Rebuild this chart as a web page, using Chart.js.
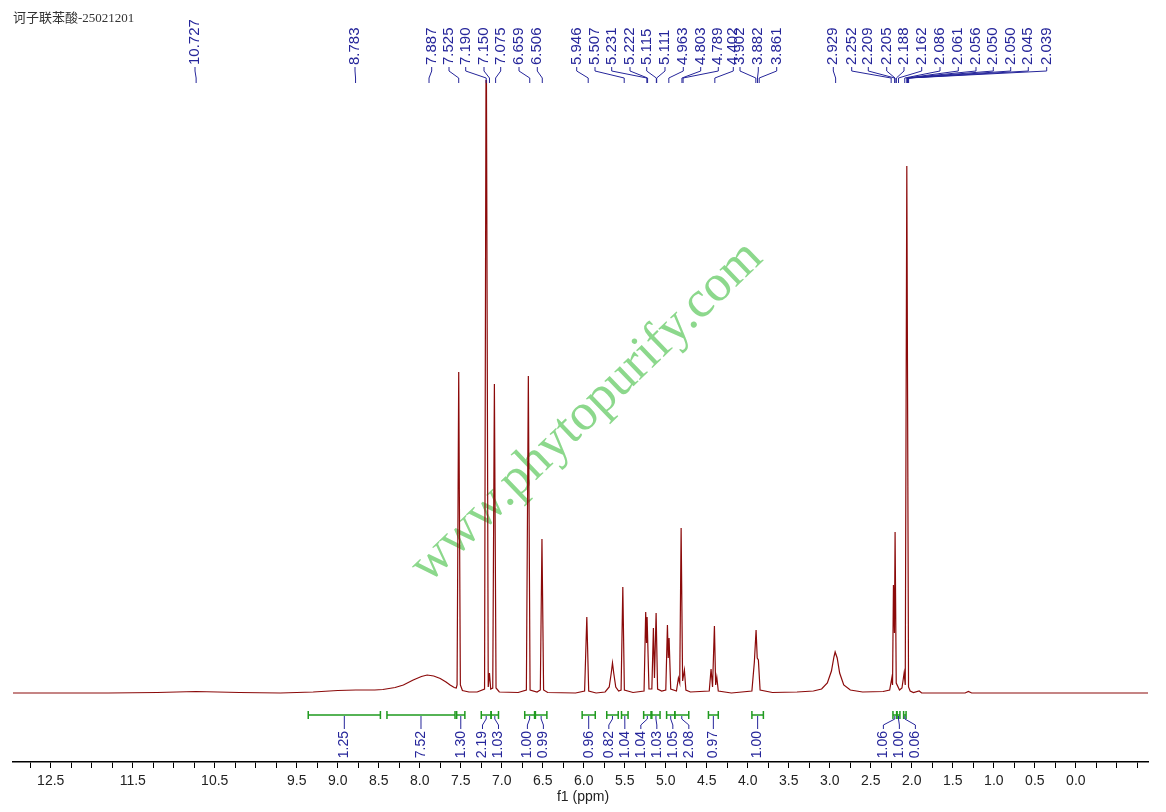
<!DOCTYPE html>
<html>
<head>
<meta charset="utf-8">
<script src="https://cdn.jsdelivr.net/npm/chart.js@4.4.1/dist/chart.umd.min.js"></script>
<style>
  html, body { margin: 0; padding: 0; background: #fff; }
  #nmr { display: block; }
</style>
</head>
<body>
<canvas id="nmr" width="1166" height="812"></canvas>
<script>
// Spectrum trace: chemical shift (ppm) and height above baseline
const shifts = [
  12.96, 11.8, 11.2, 10.73, 10.2, 9.7, 9.3, 9.0, 8.78, 8.55, 8.45, 8.3, 8.2, 8.08, 7.98, 7.91, 7.83, 7.75, 7.68, 7.63, 7.58, 7.555,
  7.545, 7.525, 7.505, 7.48, 7.40, 7.30,
  7.21, 7.19, 7.165, 7.15, 7.135,
  7.11, 7.09, 7.07, 7.03, 6.80,
  6.70, 6.676, 6.655, 6.57,
  6.53, 6.51, 6.49, 6.44, 6.10,
  5.99, 5.963, 5.94, 5.85,
  5.74, 5.69, 5.665, 5.65, 5.635, 5.61, 5.575,
  5.545, 5.524, 5.505, 5.40,
  5.265, 5.245, 5.235, 5.228, 5.205,
  5.17, 5.151, 5.138, 5.118, 5.10, 5.05,
  5.00, 4.98, 4.97, 4.96, 4.94,
  4.87, 4.846, 4.83, 4.813, 4.795, 4.773, 4.755, 4.70,
  4.47, 4.448, 4.43, 4.407, 4.392, 4.378, 4.36, 4.20,
  3.95, 3.92, 3.899, 3.885, 3.871, 3.85, 3.70, 3.40,
  3.20, 3.10, 3.03, 2.98, 2.95, 2.935, 2.91, 2.88, 2.83, 2.75, 2.60, 2.35,
  2.27, 2.244, 2.235, 2.224, 2.212, 2.204, 2.19, 2.15, 2.12, 2.094, 2.08, 2.061, 2.04, 2.02, 1.98,
  1.91, 1.88, 1.35, 1.31, 1.27, -0.88
];
const intensity = [
  0, 0, 0.5, 1.5, 0.5, 0, 1, 2.5, 3, 3, 3.5, 5.5, 8, 13, 16.5, 18, 17, 14.5, 11, 8, 5.5, 5,
  8, 321, 8, 2.5, 1, 1,
  4, 700, 6, 20, 4,
  5, 309, 5, 1, 0.5,
  3, 317, 3, 1,
  3, 154, 3, 0.5, 0,
  2, 76, 2, 0,
  1, 6, 20, 30, 20, 6, 2,
  3, 106, 3, 0.5,
  2, 81, 50, 76, 4,
  4, 65, 15, 80, 4, 2,
  3, 68, 35, 55, 4,
  2, 15, 10, 165, 12, 23, 3, 1,
  2, 24, 6, 67, 8, 16, 2, 0,
  2, 31, 63, 35, 33, 3, 0.5, 1,
  2, 4, 10, 22, 36, 41, 35, 20, 8, 3, 1, 1.5,
  3, 15, 8, 108, 60, 161, 10, 3, 5, 20, 8, 527, 6, 2, 0.5,
  2, 0, 0, 1.5, 0, 0
];

// Peak picking labels along the top
const peakLabels = [
  '10.727', '8.783',
  '7.887', '7.525', '7.190', '7.150', '7.075', '6.659', '6.506',
  '5.946', '5.507', '5.231', '5.222', '5.115', '5.111', '4.963', '4.803', '4.789', '4.402', '3.902', '3.882', '3.861',
  '2.929', '2.252', '2.209', '2.205', '2.188', '2.162', '2.086', '2.061', '2.056', '2.050', '2.050', '2.045', '2.039'
];
// where the software put each label text (pixel column)
const peakLabelX = [
  195, 355,
  431.7, 449, 465.7, 484, 500.7, 519, 537.3,
  576.7, 595, 611.7, 630, 646.7, 665, 683.3, 700.7, 718.3, 733.3, 740, 758.3, 776.7,
  833.3, 851.7, 868.3, 886.7, 904, 921.7, 940, 958.3, 976, 993.3, 1010.7, 1028.3, 1046.7
];

// Integral regions (ppm) and values
const integralFrom = [9.36, 8.40, 7.55, 7.25, 7.13, 6.72, 6.59, 6.02, 5.72, 5.54, 5.27, 5.17, 4.99, 4.89, 4.48, 3.95, 2.23, 2.18, 2.10];
const integralTo   = [8.48, 7.57, 7.45, 7.13, 7.04, 6.60, 6.45, 5.86, 5.58, 5.46, 5.18, 5.07, 4.89, 4.72, 4.36, 3.81, 2.185, 2.145, 2.07];
const integralValues = [1.25, 7.52, 1.30, 2.19, 1.03, 1.00, 0.99, 0.96, 0.82, 1.04, 1.04, 1.03, 1.05, 2.08, 0.97, 1.00, 1.06, 1.00, 0.06];

// x axis labels (10.0, 11.0, 12.0 are not printed in the original)
const tickLabels = ['12.5', '11.5', '10.5', '9.5', '9.0', '8.5', '8.0', '7.5', '7.0', '6.5', '6.0', '5.5', '5.0',
  '4.5', '4.0', '3.5', '3.0', '2.5', '2.0', '1.5', '1.0', '0.5', '0.0'];

const NAVY = '#25259a';
const GREEN = '#1f9a1f';

// pushes overlapping labels apart, keeping each cluster centred on its marks
function spreadLabels(centers, gap) {
  let groups = centers.map((c, i) => ({ idx: [i], sum: c }));
  let merged = true;
  while (merged) {
    merged = false;
    for (let g = 0; g < groups.length - 1; g++) {
      const a = groups[g], b = groups[g + 1];
      const aRight = a.sum / a.idx.length + (a.idx.length - 1) * gap / 2;
      const bLeft = b.sum / b.idx.length - (b.idx.length - 1) * gap / 2;
      if (bLeft - aRight < gap) {
        groups.splice(g, 2, { idx: a.idx.concat(b.idx), sum: a.sum + b.sum });
        merged = true;
        break;
      }
    }
  }
  const out = [];
  groups.forEach(g => {
    const start = g.sum / g.idx.length - (g.idx.length - 1) * gap / 2;
    g.idx.forEach((i, k) => { out[i] = start + k * gap; });
  });
  return out;
}

const nmrDecor = {
  id: 'nmrDecor',
  beforeDatasetsDraw(chart) {
    const ctx = chart.ctx;
    // watermark
    ctx.save();
    ctx.translate(587, 412);
    ctx.rotate(-44 * Math.PI / 180);
    ctx.font = '52px "Liberation Serif", serif';
    ctx.textAlign = 'center';
    ctx.textBaseline = 'middle';
    ctx.fillStyle = '#8cd88c';
    ctx.fillText('www.phytopurify.com', 0, 0);
    ctx.restore();
  },
  afterDraw(chart) {
    const ctx = chart.ctx;
    const xs = chart.scales.x;

    // sample name
    ctx.save();
    ctx.font = '13px "Liberation Serif", "Noto Sans CJK SC", serif';
    ctx.fillStyle = '#333';
    ctx.textBaseline = 'middle';
    ctx.fillText('诃子联苯酸-25021201', 13, 19);
    ctx.restore();

    // peak labels + connectors
    ctx.save();
    ctx.strokeStyle = NAVY;
    ctx.lineWidth = 1;
    peakLabels.forEach((lab, i) => {
      const lx = peakLabelX[i];
      const px = xs.getPixelForValue(parseFloat(lab));
      ctx.beginPath();
      ctx.moveTo(lx, 67);
      ctx.lineTo(lx, 71);
      ctx.lineTo(px, 78);
      ctx.lineTo(px, 83);
      ctx.stroke();
      ctx.save();
      ctx.translate(lx, 65);
      ctx.rotate(-Math.PI / 2);
      ctx.font = '15px "Liberation Sans", Arial, sans-serif';
      ctx.fillStyle = NAVY;
      ctx.textAlign = 'left';
      ctx.textBaseline = 'middle';
      ctx.fillText(lab, 0, 0);
      ctx.restore();
    });
    ctx.restore();

    // integrals
    const mids = integralFrom.map((f, i) => (xs.getPixelForValue(f) + xs.getPixelForValue(integralTo[i])) / 2);
    const slots = spreadLabels(mids, 16);
    ctx.save();
    integralFrom.forEach((f, i) => {
      const x1 = xs.getPixelForValue(f);
      const x2 = xs.getPixelForValue(integralTo[i]);
      ctx.strokeStyle = GREEN;
      ctx.lineWidth = 1.5;
      ctx.beginPath();
      ctx.moveTo(x1, 715); ctx.lineTo(x2, 715);
      ctx.moveTo(x1, 711); ctx.lineTo(x1, 719);
      ctx.moveTo(x2, 711); ctx.lineTo(x2, 719);
      ctx.stroke();

      ctx.strokeStyle = NAVY;
      ctx.lineWidth = 1;
      ctx.beginPath();
      ctx.moveTo(mids[i], 716);
      ctx.lineTo(mids[i], 719);
      ctx.lineTo(slots[i], 725);
      ctx.lineTo(slots[i], 729);
      ctx.stroke();

      ctx.save();
      ctx.translate(slots[i], 731);
      ctx.rotate(-Math.PI / 2);
      ctx.font = '14px "Liberation Sans", Arial, sans-serif';
      ctx.fillStyle = NAVY;
      ctx.textAlign = 'right';
      ctx.textBaseline = 'middle';
      ctx.fillText(integralValues[i].toFixed(2), 0, 0);
      ctx.restore();
    });
    ctx.restore();

    // axis title
    ctx.save();
    ctx.font = '14px "Liberation Sans", Arial, sans-serif';
    ctx.fillStyle = '#222';
    ctx.textAlign = 'center';
    ctx.textBaseline = 'middle';
    ctx.fillText('f1 (ppm)', 583, 797);
    ctx.restore();
  }
};

function buildSpectrum() {
  const ctx = document.getElementById('nmr');

  new Chart(ctx, {
    type: 'line',
    data: {
      datasets: [{
        data: shifts.map((s, i) => ({ x: s, y: intensity[i] })),
        borderColor: '#8b0a0a',
        borderWidth: 1.2,
        pointRadius: 0,
        tension: 0,
        fill: false
      }]
    },
    options: {
      responsive: false,
      animation: false,
      layout: { padding: { left: 13, right: 18, top: 80, bottom: 0 } },
      plugins: {
        legend: { display: false },
        tooltip: { enabled: false }
      },
      scales: {
        x: {
          type: 'linear',
          reverse: true,
          min: -0.88,
          max: 12.96,
          afterBuildTicks: (scale) => {
            const t = [];
            for (let v = 12.75; v >= -0.76; v -= 0.25) t.push({ value: Math.round(v * 100) / 100 });
            scale.ticks = t;
          },
          afterFit: (scale) => { scale.height = 50; },
          ticks: {
            autoSkip: false,
            maxRotation: 0,
            padding: 5,
            color: '#222',
            font: { family: '"Liberation Sans", Arial, sans-serif', size: 14 },
            callback: (value) => {
              const s = value.toFixed(1);
              const onHalf = Math.abs(value * 2 - Math.round(value * 2)) < 1e-6;
              return onHalf && tickLabels.includes(s) ? s : '';
            }
          },
          grid: { drawOnChartArea: false, drawTicks: true, tickLength: 6, color: '#000', lineWidth: 1 },
          border: { display: true, color: '#000', width: 1.5 }
        },
        y: { display: false, min: -69, max: 613 }
      }
    },
    plugins: [nmrDecor]
  });
}

document.addEventListener('DOMContentLoaded', buildSpectrum);
</script>
</body>
</html>
